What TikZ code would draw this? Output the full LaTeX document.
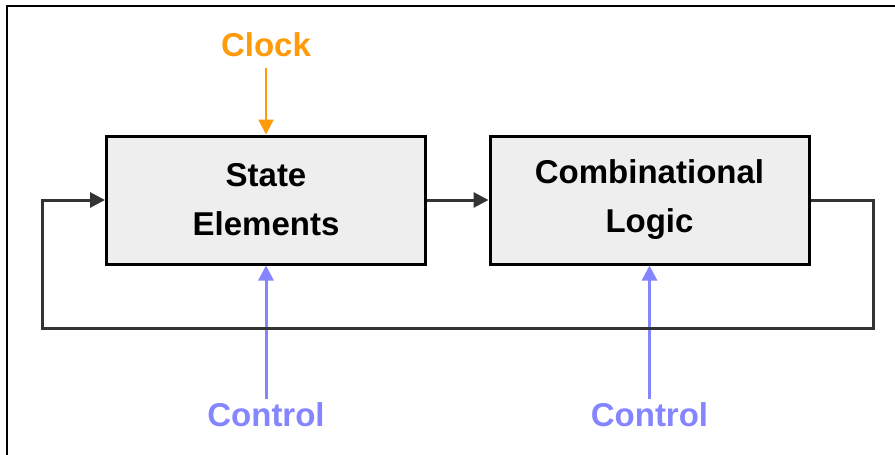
\documentclass[tikz,border=0pt]{standalone}
\usepackage{tikz}
\usepackage{xcolor}
\usepackage{fontspec}
\setmainfont{Liberation Sans}
\usetikzlibrary{calc,
	positioning,
	arrows.meta}

\definecolor{clockorange}{HTML}{FF9A0A}
\definecolor{ctrlblue}{HTML}{8585FF}
\definecolor{wiregray}{HTML}{333333}

\tikzset{
	block/.style={draw=black, line width=3pt, fill=gray!13, minimum width=319pt, minimum height=128pt, align=center, font=\fontsize{33}{49}\selectfont\bfseries},
	tag/.style={font=\fontsize{33}{40}\selectfont\bfseries},
	wire/.style={wiregray, line width=3pt, -{Triangle[length=15pt, width=15pt]}},
	clk/.style={clockorange, line width=2.5pt, -{Triangle[length=15pt, width=15pt]}},
	ctl/.style={ctrlblue, line width=3pt, -{Triangle[length=15pt, width=15pt]}}
}

\begin{document}
\begin{tikzpicture}[x=1pt, y=-1pt]
	\useasboundingbox (0, 0) rectangle (895, 455);
	% outer frame
	\draw[black, line width=2pt] (7, 455) -- (7, 6) -- (895, 6);

	\node[block] (state) at (266, 200) {State\\Elements};
	\node[block] (comb) at (649.5, 200) {Combinational\\Logic};

	\node[tag, clockorange] (clock) at (266, 45) {Clock};
	\node[tag, ctrlblue] (ctlA) at (266, 415) {Control};
	\node[tag, ctrlblue] (ctlB) at (649.5, 415) {Control};

	\draw[clk, shorten <=7pt] (clock) -- (state);
	\draw[ctl] (ctlA) -- (state);
	\draw[ctl] (ctlB) -- (comb);
	\draw[wire] (state) -- (comb);

	% feedback loop back into the state elements
	\coordinate (fbR) at (873, 328);
	\coordinate (fbL) at (42, 328);
	\draw[wire] (comb.east) -| (fbR) -- (fbL) |- (state.west);
\end{tikzpicture}
\end{document}
